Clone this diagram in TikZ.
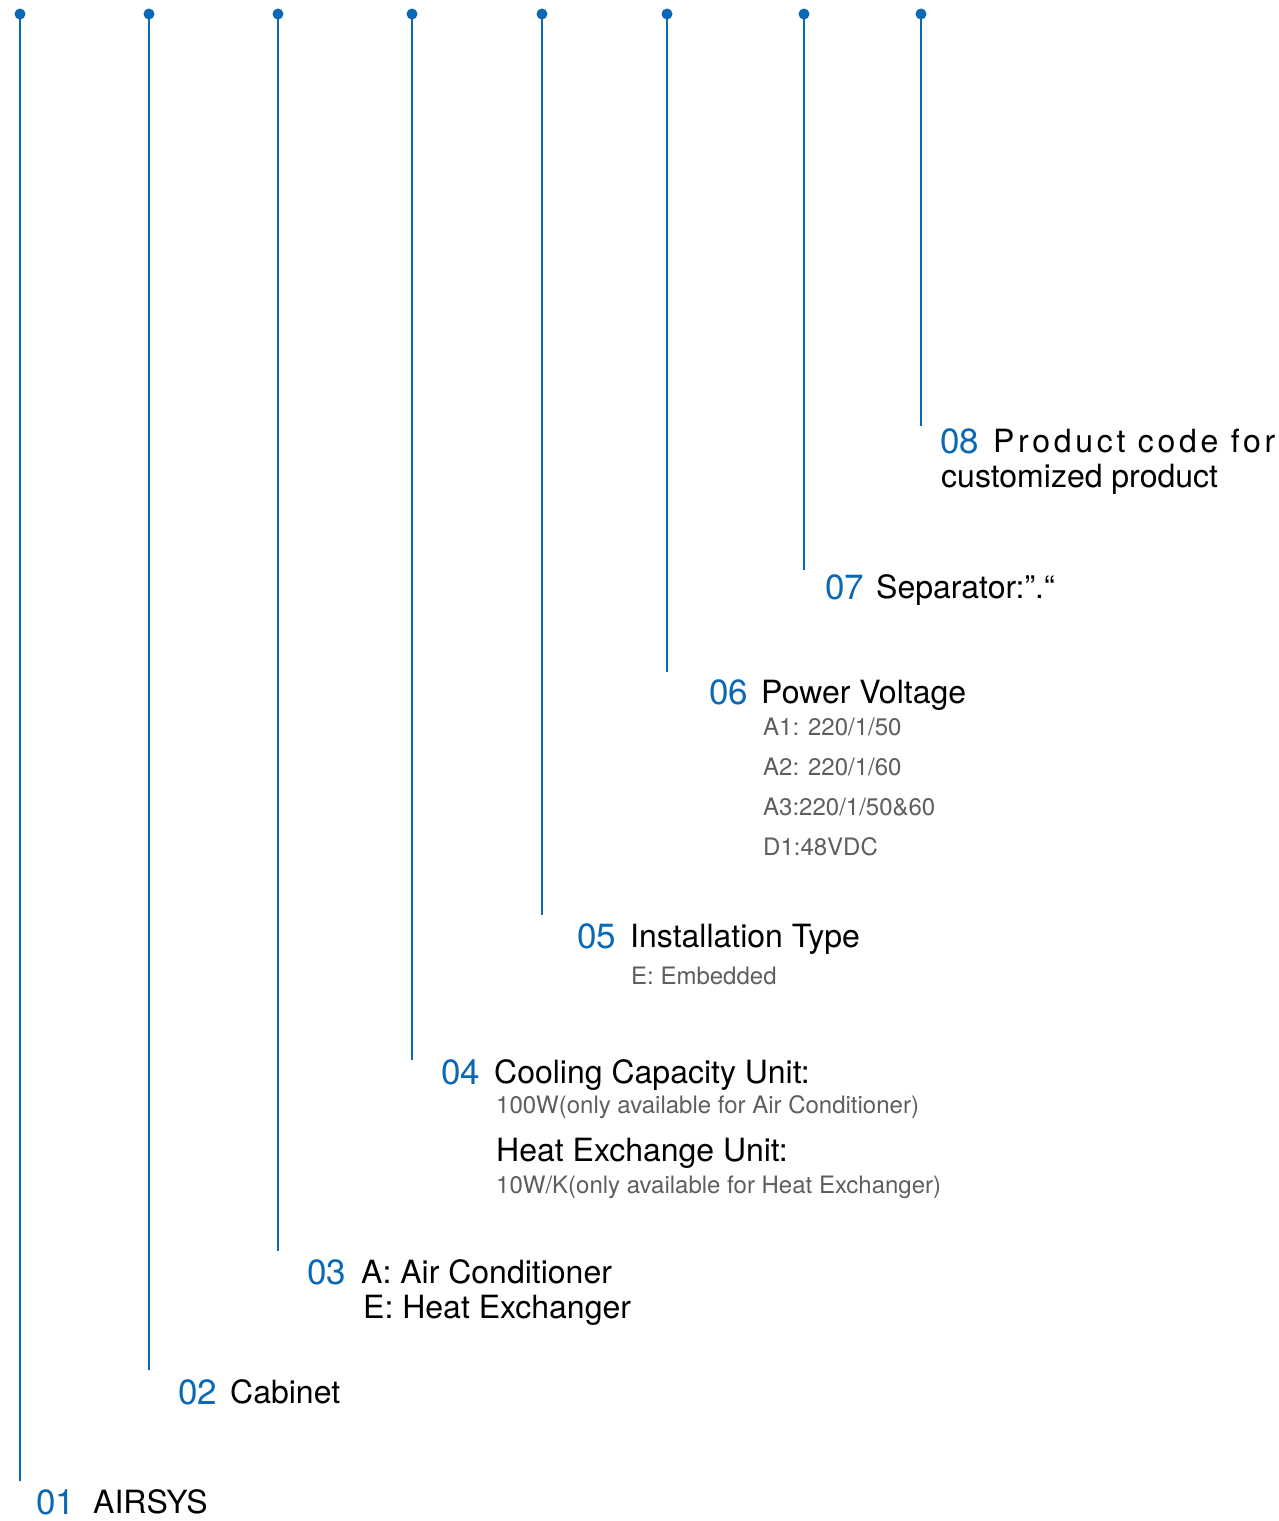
\documentclass[tikz,border=0pt]{standalone}
\usepackage{fontspec}
\setmainfont{TeX Gyre Heros}
\definecolor{codeblue}{HTML}{0A68B4}
\definecolor{subgray}{HTML}{5E5E5E}

\begin{document}
\begin{tikzpicture}[x=1pt,y=-1pt,
    lead/.style={draw=codeblue,line width=2.8pt},
    dot/.style={circle,fill=codeblue,inner sep=0pt,minimum size=11pt},
    num/.style={anchor=base west,inner sep=0pt,text=codeblue,font=\fontsize{35}{40}\selectfont},
    title/.style={anchor=base west,inner sep=0pt,font=\fontsize{32}{36}\selectfont},
    sub/.style={anchor=base west,inner sep=0pt,text=subgray,font=\fontsize{24}{28}\selectfont}]
  \useasboundingbox (0,0) rectangle (1279,1521);

  \newcommand\codeline[3]{%{name}{x}{y end}
    \node[dot] (d#1) at (#2,14) {};
    \coordinate (e#1) at (#2,#3);
    \draw[lead] (d#1.center) -- (e#1);
  }

  \codeline{01}{20}{1481}
  \codeline{02}{149}{1370}
  \codeline{03}{278}{1251}
  \codeline{04}{412}{1060}
  \codeline{05}{542}{915}
  \codeline{06}{667}{672}
  \codeline{07}{804}{570}
  \codeline{08}{921}{426}

  % 01
  \node[num] (n01) at (36,1514) {01};
  \node[title] (t01) at (93,1513) {AIRSYS};
  % 02
  \node[num] (n02) at (178,1404) {02};
  \node[title] (t02) at (230,1403) {Cabinet};
  % 03
  \node[num] (n03) at (307,1284) {03};
  \node[title] (t03a) at (361,1283) {A: Air Conditioner};
  \node[title] (t03b) at (363,1318) {E: Heat Exchanger};
  % 04
  \node[num] (n04) at (441,1084) {04};
  \node[title] (t04a) at (494,1083) {Cooling Capacity Unit:};
  \node[sub] (s04a) at (496,1113) {100W(only available for Air Conditioner)};
  \node[title] (t04b) at (496,1161) {Heat Exchange Unit:};
  \node[sub] (s04b) at (496,1193) {10W/K(only available for Heat Exchanger)};
  % 05
  \node[num] (n05) at (577,948) {05};
  \node[title] (t05) at (630,947) {Installation Type};
  \node[sub] (s05) at (631,984) {E: Embedded};
  % 06
  \node[num] (n06) at (709,704) {06};
  \node[title] (t06) at (761,703) {Power Voltage};
  \node[sub] (s06a) at (763,735) {A1: 220/1/50};
  \node[sub] (s06b) at (763,775) {A2: 220/1/60};
  \node[sub] (s06c) at (763,815) {A3:220/1/50\&60};
  \node[sub] (s06d) at (763,855) {D1:48VDC};
  % 07
  \node[num] (n07) at (825,599) {07};
  \node[title] (t07) at (876,598) {Separator:”.“};
  % 08
  \node[num] (n08) at (940,453) {08};
  \node[title] (t08a) at (993,452) {\addfontfeature{LetterSpace=11.5}Product code for};
  \node[title] (t08b) at (941,487) {customized product};
\end{tikzpicture}
\end{document}
